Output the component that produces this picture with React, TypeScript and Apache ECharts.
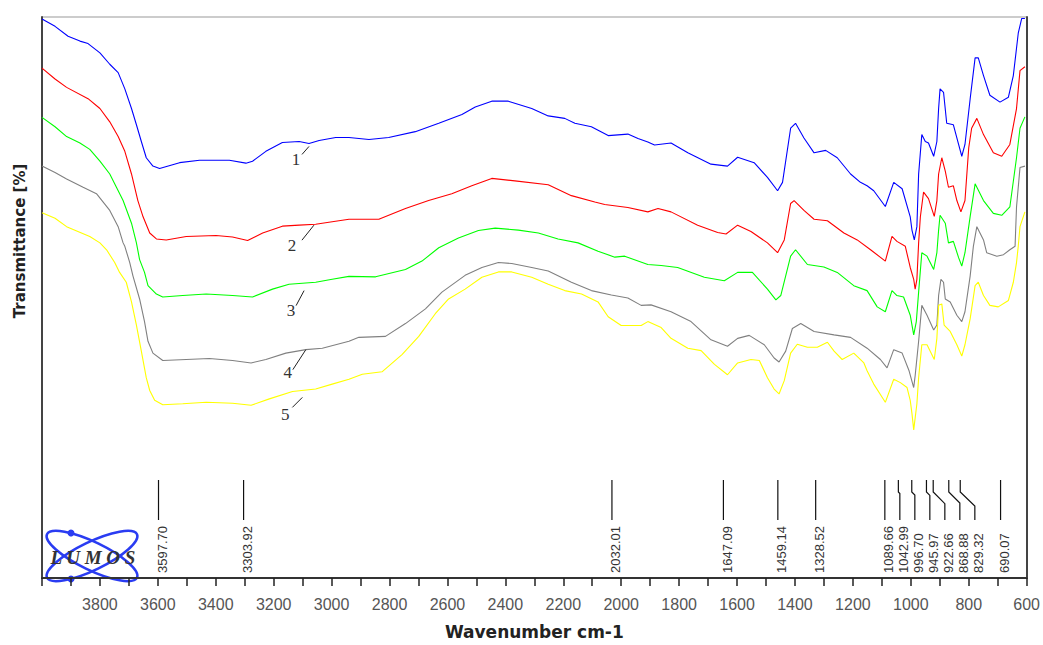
import React, { useEffect, useRef } from "react";
import * as echarts from "echarts";

// Peak positions (cm-1) labelled in the lower band
const PEAKS: number[] = [3597.7, 3303.92, 2032.01, 1647.09, 1459.14, 1328.52, 1089.66, 1042.99, 996.7, 945.97, 922.66, 868.88, 829.32, 690.07];

// X axis ticks
const X_MIN = 600;
const X_MAX = 4000;
const X_TICK = 100;
const X_LABEL_STEP = 200;

// Y axis (transmittance, arbitrary offset scale)
const Y_MIN = -14;
const Y_MAX = 100;

const SERIES_NAMES = ["1", "2", "3", "4", "5"];
const SERIES_COLORS = ["#0000ff", "#ff0000", "#00ff00", "#808080", "#ffff00"];

const S1: [number, number][] = [
  [4000, 99.6], [3955, 98.1], [3910, 96.1], [3869, 95.1], [3841, 94.6], [3800, 92.7], [3766, 90.4], [3737, 88.7], [3714, 85.4], [3691, 81.4], [3674, 78.1], [3657, 74.7], [3640, 71.4], [3617, 69.7], [3594, 69.2], [3525, 70.4], [3456, 70.9], [3353, 70.9], [3296, 70.3], [3273, 70.7], [3227, 72.7], [3170, 74.5], [3112, 74.7], [3078, 74.3], [3043, 74.9], [2986, 75.5], [2940, 75.5], [2871, 75.1], [2803, 75.5], [2711, 76.7], [2630, 78.4], [2550, 80.2], [2504, 81.7], [2447, 82.9], [2390, 82.9], [2309, 81.4], [2252, 79.9], [2195, 79.4], [2160, 78.4], [2103, 77.7], [2045, 75.9], [1977, 76.2], [1942, 75.3], [1908, 74.6], [1885, 74.0], [1828, 74.4], [1770, 72.4], [1690, 70.1], [1633, 69.7], [1598, 71.5], [1541, 70.4], [1495, 67.4], [1460, 64.7], [1443, 66.4], [1415, 77.4], [1398, 78.4], [1369, 75.4], [1334, 72.4], [1294, 72.9], [1254, 71.4], [1208, 68.1], [1174, 66.4], [1151, 65.7], [1128, 64.7], [1088, 61.5], [1059, 66.4], [1030, 65.1], [1002, 59.4], [996, 56.7], [988, 54.7], [979, 57.4], [973, 68.1], [962, 76.1], [950, 74.7], [939, 74.4], [921, 71.7], [910, 74.7], [904, 81.4], [899, 85.4], [887, 84.7], [876, 78.4], [853, 78.1], [835, 74.1], [824, 71.7], [813, 74.1], [795, 83.4], [778, 91.7], [767, 91.7], [749, 88.1], [727, 84.1], [692, 82.7], [663, 83.7], [646, 88.1], [629, 96.7], [617, 99.7], [606, 99.7],
];

const S2: [number, number][] = [
  [4000, 89.6], [3955, 87.4], [3915, 85.7], [3841, 83.4], [3800, 81.4], [3766, 78.7], [3737, 75.7], [3714, 72.7], [3691, 68.1], [3669, 62.7], [3651, 59.4], [3628, 56.1], [3605, 54.9], [3571, 54.7], [3502, 55.4], [3399, 55.6], [3342, 55.3], [3290, 54.6], [3238, 56.1], [3170, 57.5], [3112, 57.7], [3055, 57.9], [2998, 58.4], [2940, 58.9], [2837, 58.9], [2745, 61.1], [2665, 62.7], [2585, 64.1], [2516, 65.7], [2447, 67.2], [2367, 66.7], [2252, 65.9], [2172, 63.7], [2091, 62.4], [2057, 61.9], [1977, 61.3], [1908, 60.4], [1873, 61.1], [1828, 60.4], [1736, 57.7], [1667, 56.2], [1638, 55.9], [1598, 57.7], [1552, 56.4], [1495, 54.1], [1460, 52.1], [1437, 54.7], [1415, 62.1], [1403, 62.7], [1369, 60.7], [1334, 58.9], [1288, 58.6], [1231, 56.1], [1185, 54.7], [1139, 52.7], [1088, 50.4], [1065, 55.4], [1048, 54.4], [1019, 53.4], [1002, 49.1], [990, 46.7], [985, 44.7], [979, 46.7], [973, 54.1], [967, 59.4], [956, 64.4], [939, 63.1], [919, 59.5], [910, 62.7], [904, 68.1], [893, 71.4], [881, 68.7], [870, 65.4], [853, 65.7], [841, 62.7], [827, 60.4], [813, 62.7], [800, 73.4], [790, 77.4], [772, 79.4], [749, 76.1], [715, 72.4], [686, 71.7], [658, 74.1], [635, 81.4], [623, 89.1], [606, 89.9],
];

const S3: [number, number][] = [
  [4000, 79.6], [3955, 77.7], [3915, 75.7], [3869, 74.4], [3835, 73.1], [3800, 70.7], [3766, 68.1], [3743, 65.4], [3720, 62.7], [3691, 58.1], [3674, 54.1], [3663, 50.7], [3646, 48.1], [3634, 45.4], [3605, 43.7], [3583, 43.1], [3514, 43.4], [3433, 43.7], [3342, 43.4], [3273, 43.1], [3204, 44.7], [3147, 45.7], [3055, 46.1], [2998, 46.7], [2940, 47.3], [2848, 47.2], [2745, 48.7], [2688, 50.4], [2630, 53.1], [2562, 55.1], [2493, 56.6], [2435, 57.1], [2355, 56.7], [2286, 56.1], [2218, 54.9], [2149, 54.1], [2080, 52.4], [2022, 51.2], [1988, 51.4], [1908, 49.7], [1862, 49.5], [1805, 49.1], [1713, 47.1], [1644, 46.4], [1598, 48.1], [1547, 48.1], [1495, 44.7], [1466, 42.5], [1449, 43.4], [1415, 51.4], [1398, 52.7], [1357, 49.7], [1300, 49.2], [1254, 48.1], [1197, 45.4], [1151, 44.4], [1116, 41.1], [1088, 40.1], [1065, 44.4], [1048, 43.4], [1025, 43.1], [1002, 39.4], [990, 35.4], [981, 38.1], [973, 44.1], [962, 52.1], [944, 51.4], [921, 48.7], [910, 52.1], [904, 56.7], [899, 59.7], [881, 58.1], [870, 54.1], [853, 54.4], [835, 51.1], [824, 49.4], [813, 52.1], [795, 59.5], [778, 66.1], [749, 62.7], [715, 60.1], [686, 59.7], [658, 61.4], [635, 71.4], [623, 77.4], [606, 79.7],
];

const S4: [number, number][] = [
  [4000, 69.7], [3955, 68.4], [3915, 67.1], [3858, 65.4], [3812, 64.1], [3766, 60.7], [3737, 57.4], [3720, 54.1], [3714, 53.4], [3697, 50.1], [3686, 47.4], [3663, 42.7], [3646, 38.1], [3634, 34.1], [3617, 31.7], [3583, 30.2], [3502, 30.4], [3422, 30.6], [3342, 30.2], [3278, 29.7], [3227, 30.4], [3158, 31.7], [3089, 32.4], [3032, 32.7], [2940, 34.1], [2906, 34.9], [2814, 35.1], [2745, 37.7], [2676, 40.7], [2619, 44.1], [2539, 47.5], [2481, 49.1], [2424, 50.1], [2378, 49.9], [2309, 49.1], [2252, 48.4], [2172, 46.1], [2103, 44.4], [2034, 43.5], [1977, 42.9], [1931, 41.4], [1897, 41.5], [1828, 40.1], [1759, 38.1], [1690, 34.4], [1633, 33.1], [1598, 34.7], [1558, 35.3], [1506, 33.4], [1472, 30.7], [1455, 29.9], [1432, 32.1], [1409, 36.7], [1380, 37.7], [1334, 36.1], [1265, 35.4], [1208, 34.9], [1151, 32.7], [1105, 30.4], [1082, 28.7], [1059, 32.4], [1030, 31.7], [1006, 28.1], [990, 24.7], [985, 27.1], [973, 34.1], [962, 41.4], [944, 39.4], [921, 36.4], [910, 37.4], [904, 43.4], [896, 46.7], [887, 46.1], [881, 42.7], [864, 42.1], [841, 39.4], [824, 38.1], [813, 40.1], [795, 47.4], [784, 53.4], [772, 57.4], [749, 54.7], [738, 52.1], [703, 51.4], [680, 51.7], [658, 52.7], [640, 53.4], [635, 61.4], [623, 69.4], [606, 69.7],
];

const S5: [number, number][] = [
  [4000, 60.2], [3955, 59.1], [3915, 57.4], [3835, 55.4], [3800, 54.1], [3777, 52.7], [3749, 50.1], [3732, 48.1], [3709, 46.1], [3691, 42.1], [3674, 37.4], [3657, 32.1], [3640, 26.7], [3628, 24.1], [3611, 22.1], [3583, 21.2], [3514, 21.4], [3433, 21.7], [3342, 21.5], [3278, 21.1], [3215, 22.4], [3135, 23.9], [3055, 24.4], [2998, 25.4], [2940, 26.4], [2894, 27.4], [2826, 27.9], [2757, 31.4], [2699, 35.1], [2642, 39.7], [2596, 42.7], [2539, 44.7], [2481, 47.1], [2424, 48.2], [2378, 48.2], [2309, 47.1], [2252, 45.7], [2195, 44.4], [2137, 43.7], [2080, 42.1], [2045, 39.1], [2000, 37.3], [1931, 37.3], [1908, 38.1], [1862, 36.9], [1828, 34.7], [1770, 32.7], [1724, 32.2], [1678, 29.4], [1633, 27.3], [1598, 29.7], [1552, 30.4], [1523, 30.2], [1495, 26.7], [1472, 24.4], [1455, 23.4], [1437, 26.1], [1415, 31.7], [1392, 33.5], [1357, 32.9], [1323, 32.9], [1288, 33.9], [1265, 32.1], [1237, 30.4], [1197, 31.7], [1162, 29.7], [1151, 28.1], [1128, 25.4], [1088, 21.7], [1059, 26.4], [1036, 25.7], [1013, 24.7], [1002, 22.1], [996, 19.4], [990, 16.1], [979, 21.4], [973, 26.7], [962, 33.4], [944, 33.4], [919, 30.4], [910, 34.7], [904, 41.4], [893, 41.7], [885, 37.4], [864, 36.1], [841, 33.4], [824, 31.1], [813, 33.4], [795, 38.7], [778, 45.4], [767, 46.1], [749, 43.4], [727, 41.4], [698, 41.1], [663, 42.4], [646, 46.1], [635, 50.1], [629, 53.4], [623, 57.4], [606, 60.4],
];

const SERIES_DATA = [S1, S2, S3, S4, S5];

// Curve number annotations: anchor on the curve (wavenumber, value)
const CURVE_ANCHORS: [number, number][] = [
  [3078, 73.7], [3061, 57.7], [3095, 44.4], [3089, 32.4], [3101, 22.7],
];
const CURVE_LINE_OFFSETS: [number, number][] = [[-7, 8], [-12, 15], [-8, 15], [-13, 20], [-10, 10]];
const CURVE_TEXT_OFFSETS: [number, number][] = [[-13, 13], [-22, 20], [-13, 20], [-18, 23], [-17, 17]];

export default function App() {
  const ref = useRef<HTMLDivElement>(null);

  useEffect(() => {
    document.body.style.margin = "0";
    if (!ref.current) return;
    const chart = echarts.init(ref.current, null, { renderer: "svg" });

    const lineSeries = SERIES_DATA.map((d, i) => ({
      name: SERIES_NAMES[i],
      type: "line",
      data: d,
      showSymbol: false,
      symbol: "none",
      smooth: false,
      lineStyle: { color: SERIES_COLORS[i], width: 1.1 },
      itemStyle: { color: SERIES_COLORS[i] },
      silent: true,
      z: 3,
    }));

    const peakSeries = {
      type: "custom",
      coordinateSystem: "cartesian2d",
      data: PEAKS.map((p) => [p, 0]),
      encode: { x: 0, y: 1 },
      silent: true,
      clip: false,
      z: 4,
      renderItem: (params: any, api: any) => {
        const idx = params.dataIndex;
        const cs = params.coordSys;
        const bottom = cs.y + cs.height;
        const xs = PEAKS.map((p) => api.coord([p, 0])[0]);
        const lx: number[] = [];
        xs.forEach((x, i) => {
          lx.push(i === 0 ? x : Math.max(x, lx[i - 1] + 15));
        });
        const x = xs[idx];
        const l = lx[idx];
        const top = bottom - 98;
        const bend = bottom - 86;
        const end = bottom - 58;
        const dx = l - x;
        const pts =
          dx > 0.5
            ? [[x, top], [x, bend], [l, bend + Math.min(dx, 14)], [l, end]]
            : [[x, top], [x, end]];
        return {
          type: "group",
          children: [
            {
              type: "polyline",
              shape: { points: pts },
              style: { stroke: "#111", lineWidth: 1.2, fill: null },
            },
            {
              type: "text",
              x: l + 4,
              y: bottom - 5,
              rotation: Math.PI / 2,
              style: {
                text: PEAKS[idx].toFixed(2),
                fill: "#333",
                fontSize: 13,
                fontFamily: "Liberation Sans",
                align: "left",
                textAlign: "left",
                verticalAlign: "middle",
                textVerticalAlign: "middle",
              },
            },
          ],
        };
      },
    };

    chart.setOption({
      animation: false,
      backgroundColor: "#ffffff",
      grid: {
        left: 42,
        right: 13,
        top: 17,
        bottom: 58,
        show: true,
        borderColor: "#999",
        borderWidth: 1,
        containLabel: false,
      },
      xAxis: {
        type: "value",
        min: X_MIN,
        max: X_MAX,
        interval: X_TICK,
        inverse: true,
        name: "Wavenumber cm-1",
        nameLocation: "middle",
        nameGap: 45,
        nameTextStyle: {
          fontFamily: "DejaVu Sans",
          fontWeight: "bold",
          fontSize: 17,
          color: "#222",
        },
        axisLine: { show: true, onZero: false, lineStyle: { color: "#333", width: 2 } },
        axisTick: { show: true, inside: false, length: 8, lineStyle: { color: "#222", width: 1.5 } },
        axisLabel: {
          show: true,
          margin: 18,
          fontFamily: "Liberation Sans",
          fontSize: 16,
          color: "#555",
          formatter: (v: number) => (v % X_LABEL_STEP === 0 && v < X_MAX ? String(v) : ""),
        },
        splitLine: { show: false },
      },
      yAxis: [
        {
          type: "value",
          min: Y_MIN,
          max: Y_MAX,
          position: "left",
          axisLine: { show: true, onZero: false, lineStyle: { color: "#444", width: 2 } },
          axisTick: { show: false },
          axisLabel: { show: false },
          splitLine: { show: false },
        },
        {
          type: "value",
          min: Y_MIN,
          max: Y_MAX,
          position: "right",
          axisLine: { show: true, onZero: false, lineStyle: { color: "#444", width: 2 } },
          axisTick: { show: false },
          axisLabel: { show: false },
          splitLine: { show: false },
        },
      ],
      series: [...lineSeries, peakSeries],
    });

    const graphics: any[] = [];
    // Y axis title
    graphics.push({
      type: "text",
      x: 20,
      y: 241,
      rotation: Math.PI / 2,
      style: {
        text: "Transmittance [%]",
        font: 'bold 15px "DejaVu Sans"',
        fill: "#222",
        align: "center",
        textAlign: "center",
        verticalAlign: "middle",
        textVerticalAlign: "middle",
      },
      z: 10,
    });

    // Curve number labels
    CURVE_ANCHORS.forEach((a, i) => {
      const p = chart.convertToPixel({ xAxisIndex: 0, yAxisIndex: 0 }, a) as number[];
      const lo = CURVE_LINE_OFFSETS[i];
      const to = CURVE_TEXT_OFFSETS[i];
      graphics.push({
        type: "line",
        shape: { x1: p[0], y1: p[1], x2: p[0] + lo[0], y2: p[1] + lo[1] },
        style: { stroke: "#222", lineWidth: 1 },
        z: 10,
      });
      graphics.push({
        type: "text",
        x: p[0] + to[0],
        y: p[1] + to[1],
        style: {
          text: SERIES_NAMES[i],
          font: '17px "Liberation Serif"',
          fill: "#333",
          align: "center",
          textAlign: "center",
          verticalAlign: "middle",
          textVerticalAlign: "middle",
        },
        z: 10,
      });
    });

    // LUMOS logo
    graphics.push({
      type: "group",
      z: 10,
      children: [
        {
          type: "ellipse",
          x: 92,
          y: 556,
          rotation: 0.45,
          shape: { cx: 0, cy: 0, rx: 50, ry: 14 },
          style: { fill: "none", stroke: "#2a3cf2", lineWidth: 2.5 },
        },
        {
          type: "ellipse",
          x: 92,
          y: 556,
          rotation: -0.45,
          shape: { cx: 0, cy: 0, rx: 50, ry: 14 },
          style: { fill: "none", stroke: "#2a3cf2", lineWidth: 2.5 },
        },
        { type: "circle", shape: { cx: 71, cy: 533, r: 3.5 }, style: { fill: "#2a3cf2" } },
        { type: "circle", shape: { cx: 71, cy: 579, r: 3.5 }, style: { fill: "#2a3cf2" } },
        {
          type: "text",
          x: 93,
          y: 557,
          style: {
            text: "L U M O S",
            font: 'italic bold 19px "Liberation Serif"',
            fill: "#333",
            align: "center",
            textAlign: "center",
            verticalAlign: "middle",
            textVerticalAlign: "middle",
          },
        },
      ],
    });

    chart.setOption({ graphic: graphics });

    return () => {
      chart.dispose();
    };
  }, []);

  return (
    <div
      ref={ref}
      style={{ position: "absolute", left: 0, top: 0, width: 1043, height: 645 }}
    />
  );
}
